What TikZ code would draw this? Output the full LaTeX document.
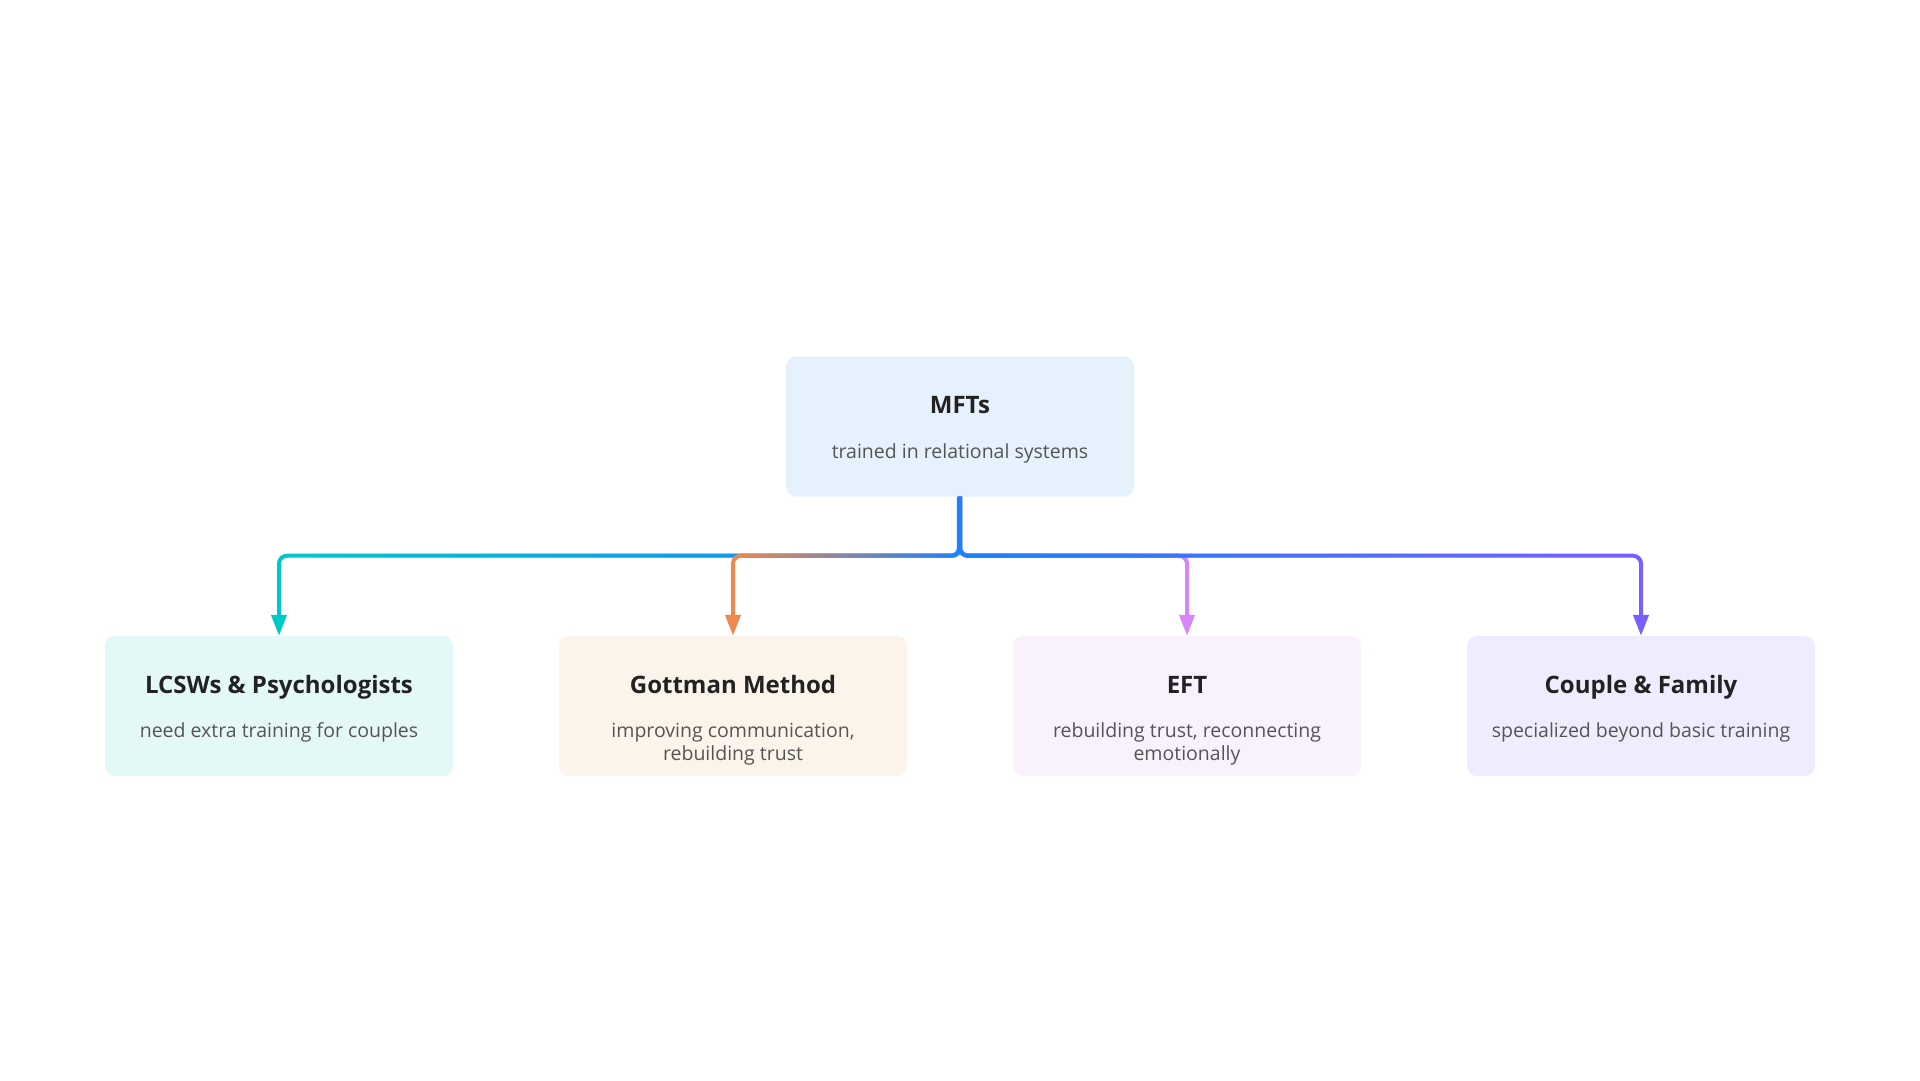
\documentclass[tikz,border=0pt]{standalone}
\usepackage{fontspec}
\setmainfont{Open Sans}
\usetikzlibrary{arrows.meta,fadings,calc}
\definecolor{cBlue}{HTML}{1A82FF}
\definecolor{cTeal}{HTML}{00C9C9}
\definecolor{cOrange}{HTML}{EE8A4F}
\definecolor{cPink}{HTML}{D787FB}
\definecolor{cPurple}{HTML}{7A5FFF}
\definecolor{fBlue}{HTML}{E5F1FD}
\definecolor{fTeal}{HTML}{E3F8F7}
\definecolor{fOrange}{HTML}{FCF3EB}
\definecolor{fPink}{HTML}{F9F1FE}
\definecolor{fPurple}{HTML}{EFEDFD}
\definecolor{cTitle}{HTML}{222222}
\definecolor{cSub}{HTML}{555555}
\begin{document}
\begin{tikzpicture}[x=1pt,y=-1pt,
  box/.style={rectangle,rounded corners=10pt,minimum width=348pt,minimum height=140pt,inner sep=0pt},
  ttl/.style={anchor=base,font=\fontsize{24}{29}\selectfont\bfseries,text=cTitle,inner sep=0pt},
  sub/.style={anchor=base,font=\fontsize{19.5}{24}\selectfont,text=cSub,inner sep=0pt},
  conn/.style={line width=4pt,rounded corners=8pt},
  tipped/.style={-{Triangle[length=21pt,width=15pt]}},
  overlay/.style={conn,cBlue,shorten >=21pt}]
\useasboundingbox[fill=white] (0,0) rectangle (1920,1080);

% boxes
\node[box,fill=fBlue]   (M) at (960,426.5) {};
\node[box,fill=fTeal]   (L) at (279,706) {};
\node[box,fill=fOrange] (G) at (733,706) {};
\node[box,fill=fPink]   (E) at (1187,706) {};
\node[box,fill=fPurple] (C) at (1641,706) {};

% texts
\node[ttl] (Mt) at ($(M.center)+(0,-13.5)$) {MFTs};
\node[sub] (Ms) at ($(M.center)+(0,31.5)$) {trained in relational systems};
\node[ttl] (Lt) at ($(L.center)+(0,-13)$) {LCSWs \& Psychologists};
\node[sub] (Ls) at ($(L.center)+(0,31)$) {need extra training for couples};
\node[ttl] (Gt) at ($(G.center)+(0,-13)$) {Gottman Method};
\node[sub] (Gs1) at ($(G.center)+(0,31)$) {improving communication,};
\node[sub] (Gs2) at ($(G.center)+(0,54)$) {rebuilding trust};
\node[ttl] (Et) at ($(E.center)+(0,-13)$) {EFT};
\node[sub] (Es1) at ($(E.center)+(0,31)$) {rebuilding trust, reconnecting};
\node[sub] (Es2) at ($(E.center)+(0,54)$) {emotionally};
\node[ttl] (Ct) at ($(C.center)+(0,-13)$) {Couple \& Family};
\node[sub] (Cs) at ($(C.center)+(0,31)$) {specialized beyond basic training};

% connectors
\draw[conn,tipped,cTeal] (M.south) -- ++(0,59) -| (L.north);
\draw[overlay,path fading=west] (M.south) -- ++(0,59) -| (L.north);
\draw[conn,tipped,cPink] (M.south) -- ++(0,59) -| (E.north);
\draw[overlay,path fading=east] (M.south) -- ++(0,59) -| (E.north);
\draw[conn,tipped,cOrange] (M.south) -- ++(0,59) -| (G.north);
\draw[overlay,path fading=west] (M.south) -- ++(0,59) -| (G.north);
\draw[conn,tipped,cPurple] (M.south) -- ++(0,59) -| (C.north);
\draw[overlay,path fading=east] (M.south) -- ++(0,59) -| (C.north);
\end{tikzpicture}
\end{document}
